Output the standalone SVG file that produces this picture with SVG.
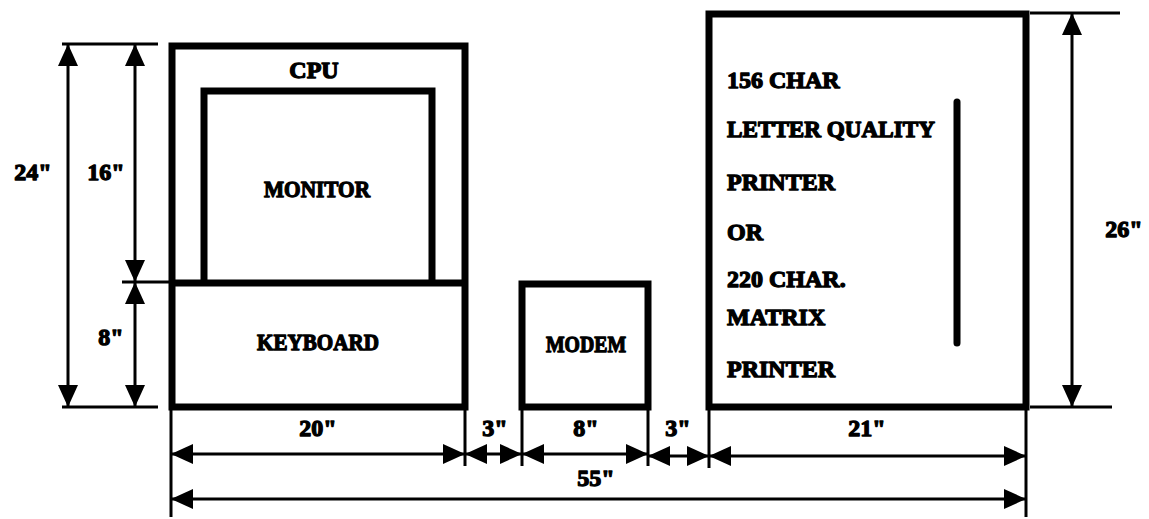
<svg xmlns="http://www.w3.org/2000/svg" width="1149" height="519" viewBox="0 0 1149 519">
  <style>
    .box { fill: none; stroke: #000; stroke-width: 7; stroke-linejoin: miter; }
    .dim { stroke: #000; stroke-width: 3; fill: none; }
    .ext { stroke: #000; stroke-width: 3; fill: none; }
    .t { font-family: "Liberation Serif", "DejaVu Serif", serif; font-weight: bold; font-size: 24px; fill: #000; stroke: #000; stroke-width: 1.3; stroke-linejoin: round; }
    .c { text-anchor: middle; }
  </style>
  <defs>
    <marker id="ah" viewBox="0 0 22 20" refX="22" refY="10" markerWidth="22" markerHeight="20" markerUnits="userSpaceOnUse" orient="auto-start-reverse">
      <path d="M0,0 L22,10 L0,20 z" fill="#000"/>
    </marker>
  </defs>
  <rect width="1149" height="519" fill="#fff"/>

  <g id="cpu">
    <rect class="box" x="172" y="46" width="293" height="361"/>
    <text class="t c" x="314" y="78">CPU</text>
  </g>
  <g id="monitor">
    <path class="box" d="M204,283 V91 H432 V283"/>
    <text class="t c" x="317" y="197" textLength="106" lengthAdjust="spacingAndGlyphs">MONITOR</text>
  </g>
  <g id="keyboard">
    <line class="box" x1="172" y1="283" x2="465" y2="283"/>
    <text class="t c" x="318" y="350" textLength="122" lengthAdjust="spacingAndGlyphs">KEYBOARD</text>
  </g>
  <g id="modem">
    <rect class="box" x="522" y="284" width="126" height="123"/>
    <text class="t c" x="586" y="352" textLength="80" lengthAdjust="spacingAndGlyphs">MODEM</text>
  </g>
  <g id="printer">
    <rect class="box" x="709" y="14" width="317" height="393"/>
    <text class="t" x="727" y="88">156 CHAR</text>
    <text class="t" x="727" y="137" textLength="208" lengthAdjust="spacingAndGlyphs">LETTER QUALITY</text>
    <text class="t" x="727" y="190">PRINTER</text>
    <text class="t" x="727" y="240">OR</text>
    <text class="t" x="727" y="287">220 CHAR.</text>
    <text class="t" x="727" y="325">MATRIX</text>
    <text class="t" x="727" y="377">PRINTER</text>
    <line x1="957" y1="102" x2="957" y2="343" stroke="#000" stroke-width="7" stroke-linecap="round"/>
  </g>

  <g id="connectors">
    <!-- extension lines -->
    <line class="ext" x1="62" y1="44" x2="158" y2="44"/>
    <line class="ext" x1="62" y1="407" x2="158" y2="407"/>
    <line class="ext" x1="122" y1="282" x2="172" y2="282"/>
    <line class="ext" x1="1030" y1="13" x2="1120" y2="13"/>
    <line class="ext" x1="1030" y1="407" x2="1112" y2="407"/>
    <line class="ext" x1="171" y1="407" x2="171" y2="517"/>
    <line class="ext" x1="465" y1="407" x2="465" y2="466"/>
    <line class="ext" x1="522" y1="407" x2="522" y2="466"/>
    <line class="ext" x1="648" y1="407" x2="648" y2="466"/>
    <line class="ext" x1="709" y1="407" x2="709" y2="468"/>
    <line class="ext" x1="1026" y1="407" x2="1026" y2="517"/>

    <!-- vertical dimensions -->
    <line class="dim" x1="68" y1="44" x2="68" y2="407" marker-start="url(#ah)" marker-end="url(#ah)"/>
    <line class="dim" x1="135" y1="44" x2="135" y2="282" marker-start="url(#ah)" marker-end="url(#ah)"/>
    <line class="dim" x1="135" y1="282" x2="135" y2="407" marker-start="url(#ah)" marker-end="url(#ah)"/>
    <line class="dim" x1="1072" y1="13" x2="1072" y2="407" marker-start="url(#ah)" marker-end="url(#ah)"/>

    <!-- horizontal dimensions -->
    <line class="dim" x1="171" y1="454" x2="465" y2="454" marker-start="url(#ah)" marker-end="url(#ah)"/>
    <line class="dim" x1="465" y1="454" x2="522" y2="454" marker-start="url(#ah)" marker-end="url(#ah)"/>
    <line class="dim" x1="522" y1="454" x2="648" y2="454" marker-start="url(#ah)" marker-end="url(#ah)"/>
    <line class="dim" x1="648" y1="456" x2="709" y2="456" marker-start="url(#ah)" marker-end="url(#ah)"/>
    <line class="dim" x1="709" y1="456" x2="1026" y2="456" marker-start="url(#ah)" marker-end="url(#ah)"/>
    <line class="dim" x1="171" y1="499" x2="1026" y2="499" marker-start="url(#ah)" marker-end="url(#ah)"/>

    <!-- labels -->
    <text class="t c" x="33" y="180">24"</text>
    <text class="t c" x="106" y="180">16"</text>
    <text class="t c" x="111" y="345">8"</text>
    <text class="t c" x="1124" y="237">26"</text>
    <text class="t c" x="318" y="436">20"</text>
    <text class="t c" x="495" y="436">3"</text>
    <text class="t c" x="586" y="436">8"</text>
    <text class="t c" x="678" y="436">3"</text>
    <text class="t c" x="867" y="436">21"</text>
    <text class="t c" x="596" y="486">55"</text>
  </g>
</svg>
